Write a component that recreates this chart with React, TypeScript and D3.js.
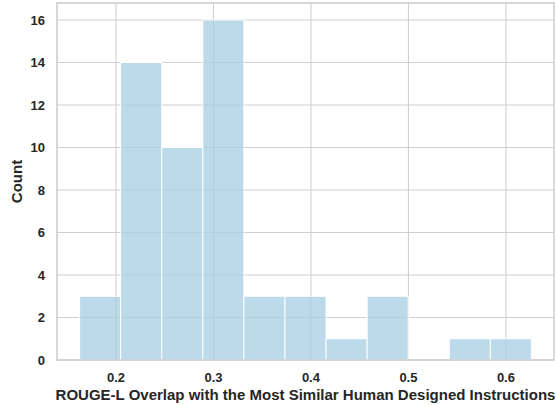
import React, { useRef, useEffect } from 'react';
import * as d3 from 'd3';

// histogram of ROUGE-L overlap scores
const binStart = 0.1627;
const binWidth = 0.04213;
const counts = [3, 14, 10, 16, 3, 3, 1, 3, 0, 1, 1];
const xTicks = [0.2, 0.3, 0.4, 0.5, 0.6];
const yTicks = [0, 2, 4, 6, 8, 10, 12, 14, 16];
const xLabel = 'ROUGE-L Overlap with the Most Similar Human Designed Instructions';
const yLabel = 'Count';

const width = 556;
const height = 406;
const margin = { top: 3, right: 2, bottom: 46, left: 57 };

const App = () => {
    const ref = useRef(null);

    useEffect(() => {
        if (!ref.current) return;
        const svg = d3.select(ref.current);
        svg.selectAll('*').remove();

        const lo = binStart;
        const hi = binStart + binWidth * counts.length;
        const pad = (hi - lo) * 0.05;
        const yMax = (d3.max(counts) || 0) * 1.05;

        const x = d3.scaleLinear()
            .domain([lo - pad, hi + pad])
            .range([margin.left, width - margin.right]);
        const y = d3.scaleLinear()
            .domain([0, yMax])
            .range([height - margin.bottom, margin.top]);

        const font = '"Liberation Sans", Arial, sans-serif';
        const grid = '#d0d0d0';

        // grid
        svg.append('g').selectAll('line.gx').data(xTicks).enter()
            .append('line')
            .attr('x1', d => x(d)).attr('x2', d => x(d))
            .attr('y1', y(0)).attr('y2', y(yMax))
            .attr('stroke', grid).attr('stroke-width', 1.1);
        svg.append('g').selectAll('line.gy').data(yTicks).enter()
            .append('line')
            .attr('x1', x.range()[0]).attr('x2', x.range()[1])
            .attr('y1', d => y(d)).attr('y2', d => y(d))
            .attr('stroke', grid).attr('stroke-width', 1.1);

        // bars
        svg.append('g').selectAll('rect').data(counts).enter()
            .append('rect')
            .attr('x', (d, i) => x(binStart + i * binWidth))
            .attr('width', (d, i) => x(binStart + (i + 1) * binWidth) - x(binStart + i * binWidth))
            .attr('y', d => y(d))
            .attr('height', d => y(0) - y(d))
            .attr('fill', d => d > 0 ? 'rgba(166,206,227,0.75)' : 'none')
            .attr('stroke', d => d > 0 ? '#ffffff' : 'none')
            .attr('stroke-width', 1);

        // frame
        svg.append('rect')
            .attr('x', x.range()[0]).attr('y', y(yMax))
            .attr('width', x.range()[1] - x.range()[0])
            .attr('height', y(0) - y(yMax))
            .attr('fill', 'none')
            .attr('stroke', '#cccccc')
            .attr('stroke-width', 1.5);

        // tick labels
        svg.append('g').selectAll('text').data(xTicks).enter()
            .append('text')
            .attr('x', d => x(d)).attr('y', y(0) + 22)
            .attr('text-anchor', 'middle')
            .attr('font-family', font).attr('font-weight', 'bold')
            .attr('font-size', 13).attr('fill', '#262626')
            .text(d => d3.format('.1f')(d));
        svg.append('g').selectAll('text').data(yTicks).enter()
            .append('text')
            .attr('x', margin.left - 12).attr('y', d => y(d))
            .attr('dy', '0.35em')
            .attr('text-anchor', 'end')
            .attr('font-family', font).attr('font-weight', 'bold')
            .attr('font-size', 13).attr('fill', '#262626')
            .text(d => d);

        // axis labels
        svg.append('text')
            .attr('x', (x.range()[0] + x.range()[1]) / 2).attr('y', height - 6)
            .attr('text-anchor', 'middle')
            .attr('font-family', font).attr('font-weight', 'bold')
            .attr('font-size', 15).attr('fill', '#262626')
            .text(xLabel);
        svg.append('text')
            .attr('transform', `translate(22, ${(y(0) + y(yMax)) / 2}) rotate(-90)`)
            .attr('text-anchor', 'middle')
            .attr('font-family', font).attr('font-weight', 'bold')
            .attr('font-size', 15).attr('fill', '#262626')
            .text(yLabel);
    }, []);

    return (
        <svg
            ref={ref}
            width={width}
            height={height}
            style={{ position: 'absolute', left: 0, top: 0, background: '#fff' }}
        />
    );
};

export default App;
